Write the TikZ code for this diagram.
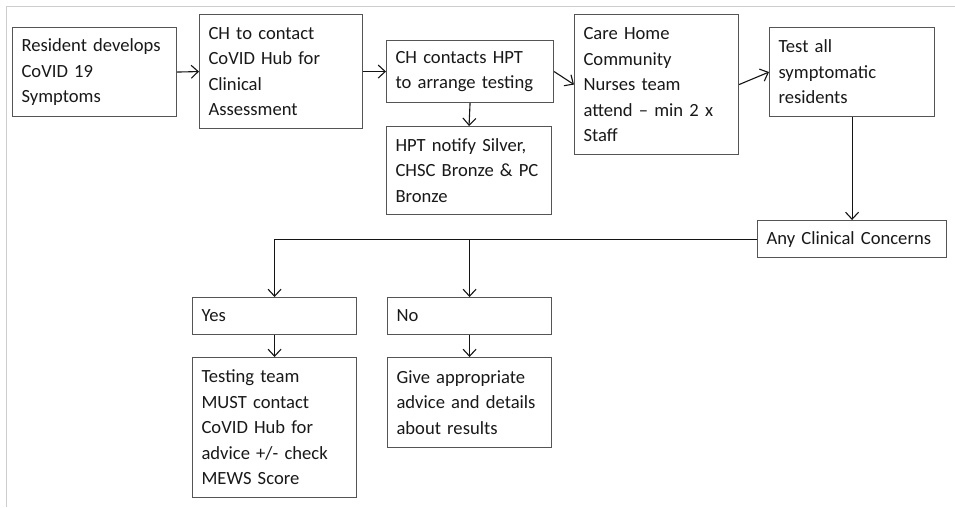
\documentclass[tikz,border=0pt]{standalone}
\usepackage{fontspec}
\setmainfont{Carlito}
\usepackage{tikz}
\usetikzlibrary{
  positioning,
  arrows.meta,
  calc
}
\definecolor{boxborder}{RGB}{85,85,85}
\definecolor{arrowcolor}{RGB}{20,20,20}
\definecolor{framegray}{RGB}{205,205,205}
\definecolor{textcolor}{RGB}{25,25,25}
\tikzset{
  stepbox/.style={
    draw=boxborder, fill=white, line width=1.1pt,
    anchor=north west, inner xsep=9pt, inner ysep=2pt,
    font=\fontsize{18.6}{25.5}\selectfont, text=textcolor, align=left
  },
  flowarrow/.style={
    -{Straight Barb[length=7pt,width=13pt,line width=1.1pt]},
    line width=1.1pt, draw=arrowcolor
  },
  flowline/.style={
    line width=1.1pt, draw=arrowcolor
  }
}
\begin{document}
\begin{tikzpicture}[x=1pt,y=-1pt]
  \useasboundingbox (0,0) rectangle (955,507);
  \fill[white] (0,0) rectangle (955,507);
  \draw[framegray, line width=1pt] (955,6) -| (6,507);

  % top row
  \node[stepbox, minimum width=164pt, minimum height=89pt, text width=146pt] (resident) at (12,27) {Resident develops\\CoVID 19\\Symptoms};
  \node[stepbox, minimum width=163pt, minimum height=114pt, text width=145pt] (contact) at (199,14) {CH to contact\\CoVID Hub for\\Clinical\\Assessment};
  \node[stepbox, minimum width=167pt, minimum height=62pt, text width=149pt] (hpt) at (386,40) {CH contacts HPT\\to arrange testing};
  \node[stepbox, minimum width=165pt, minimum height=88pt, text width=147pt] (notify) at (386,126) {HPT notify Silver,\\CHSC Bronze \& PC\\Bronze};
  \node[stepbox, minimum width=164pt, minimum height=140pt, text width=146pt] (nurses) at (574,14) {Care Home\\Community\\Nurses team\\attend -- min 2 x\\Staff};
  \node[stepbox, minimum width=165pt, minimum height=89pt, text width=147pt] (testall) at (769,27) {Test all\\symptomatic\\residents};
  \node[stepbox, minimum width=189pt, minimum height=37pt, text width=171pt] (concerns) at (757,220) {Any Clinical Concerns};

  % answers
  \node[stepbox, minimum width=164pt, minimum height=37pt, text width=146pt] (yes) at (192,297) {Yes};
  \node[stepbox, minimum width=164pt, minimum height=37pt, text width=146pt] (no) at (387,297) {No};
  \node[stepbox, minimum width=164pt, minimum height=140pt, text width=146pt] (testing) at (192,357) {Testing team\\MUST contact\\CoVID Hub for\\advice +/- check\\MEWS Score};
  \node[stepbox, minimum width=164pt, minimum height=90pt, text width=146pt] (advice) at (387,357) {Give appropriate\\advice and details\\about results};

  % connectors
  \draw[flowarrow] (resident.east) -- (contact.west);
  \draw[flowarrow] (contact.east) -- (hpt.west);
  \draw[flowarrow] (hpt.south) -- (notify.north);
  \draw[flowarrow] (hpt.east) -- (nurses.west);
  \draw[flowarrow] (nurses.east) -- (testall.west);
  \draw[flowarrow] (testall.south) -- (concerns.north);
  \draw[flowarrow] (concerns.west) -| (yes.north);
  \draw[flowarrow] (no.north |- concerns.west) -- (no.north);
  \draw[flowarrow] (yes.south) -- (testing.north);
  \draw[flowarrow] (no.south) -- (advice.north);
\end{tikzpicture}
\end{document}
